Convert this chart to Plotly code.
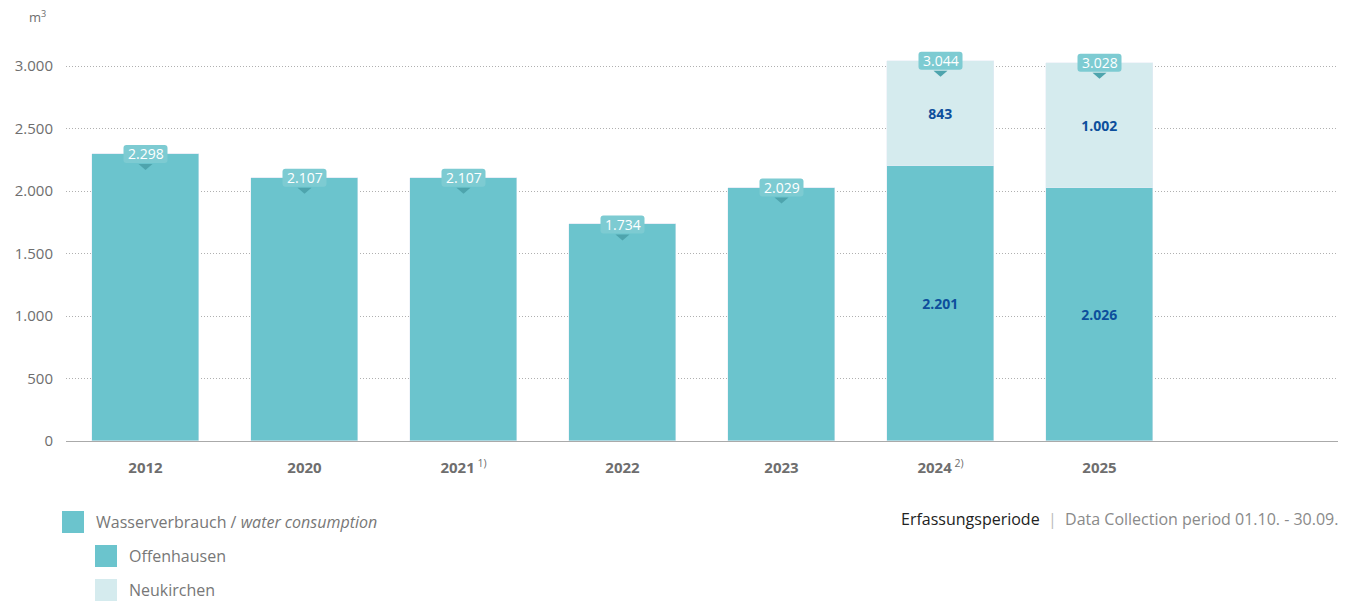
import plotly.graph_objects as go

years = ["2012", "2020", "2021", "2022", "2023", "2024", "2025"]
year_notes = ["", "", "1)", "", "", "2)", ""]
offenhausen = [2298, 2107, 2107, 1734, 2029, 2201, 2026]
neukirchen = [0, 0, 0, 0, 0, 843, 1002]
y_ticks = [0, 500, 1000, 1500, 2000, 2500, 3000]

def de(v):
    return f"{v:,}".replace(",", ".")

totals = [a + b for a, b in zip(offenhausen, neukirchen)]
xs = list(range(len(years)))
ticktext = [f"<b>{y}</b>" + (f"<sup> {n}</sup>" if n else "") for y, n in zip(years, year_notes)]

BAR = "#6bc4cd"
LIGHT = "#d5ebee"
BUBBLE = "#7dcbd2"
POINTER = "#4ea4ad"
GREY = "#6e6e6e"
FONT = "Open Sans"

W, H = 1347, 602
L, T = 66, 35
R = W - 1338
B = H - 441
PW, PH = W - L - R, H - T - B

def px(x):
    return (x - L) / PW

def py(y):
    return (H - B - y) / PH

fig = go.Figure()
fig.add_trace(go.Bar(
    x=xs, y=offenhausen, marker_color=BAR, width=0.675, name="Offenhausen",
    text=[de(v) if n else "" for v, n in zip(offenhausen, neukirchen)],
    textposition="inside", insidetextanchor="middle",
    textfont=dict(color="#0d4f9c", size=14, family=FONT, weight="bold"),
    hoverinfo="skip", showlegend=False,
))
fig.add_trace(go.Bar(
    x=xs, y=neukirchen, marker_color=LIGHT, width=0.675, name="Neukirchen",
    text=[de(v) if v else "" for v in neukirchen],
    textposition="inside", insidetextanchor="middle",
    textfont=dict(color="#0d4f9c", size=14, family=FONT, weight="bold"),
    hoverinfo="skip", showlegend=False,
))

annotations = []
shapes = []
bubble_path = ("M -19,-9 L 19,-9 Q 22,-9 22,-6 L 22,6 Q 22,9 19,9 L -19,9 "
               "Q -22,9 -22,6 L -22,-6 Q -22,-9 -19,-9 Z")
for x, t in zip(xs, totals):
    shapes.append(dict(type="path", xref="x", yref="y", xsizemode="pixel", ysizemode="pixel",
                       xanchor=x, yanchor=t, path=bubble_path,
                       fillcolor=BUBBLE, line=dict(width=0), layer="above"))
    shapes.append(dict(type="path", xref="x", yref="y", xsizemode="pixel", ysizemode="pixel",
                       xanchor=x, yanchor=t, path="M -7,-10 L 7,-10 L 0,-16 Z",
                       fillcolor=POINTER, line=dict(width=0), layer="above"))
    annotations.append(dict(x=x, y=t, xref="x", yref="y", text=de(t), showarrow=False,
                            font=dict(size=14, color="white", family=FONT),
                            yanchor="middle", yshift=0))

annotations.append(dict(x=px(48), y=py(17), xref="paper", yref="paper", text="m<sup>3</sup>",
                        showarrow=False, xanchor="right", yanchor="middle",
                        font=dict(size=13, color=GREY, family=FONT)))

legend_items = [
    (62, 522, BAR, "Wasserverbrauch / <i>water consumption</i>"),
    (95, 556, BAR, "Offenhausen"),
    (95, 590, LIGHT, "Neukirchen"),
]
for x0, yc, col, label in legend_items:
    shapes.append(dict(type="rect", xref="paper", yref="paper",
                       x0=px(x0), x1=px(x0 + 22), y0=py(yc - 11), y1=py(yc + 11),
                       fillcolor=col, line=dict(width=0)))
    annotations.append(dict(x=px(x0 + 32), y=py(yc), xref="paper", yref="paper", text=label,
                            showarrow=False, xanchor="left", yanchor="middle",
                            font=dict(size=16, color="#777777", family=FONT)))

annotations.append(dict(
    x=px(1340), y=py(519), xref="paper", yref="paper", showarrow=False,
    xanchor="right", yanchor="middle",
    text='<span style="color:#222222">Erfassungsperiode</span>'
         '<span style="color:#bbbbbb">  |  </span>'
         '<span style="color:#8a8a8a">Data Collection period 01.10. - 30.09.</span>',
    font=dict(size=16, family=FONT)))

fig.update_layout(
    width=W, height=H, margin=dict(l=L, r=R, t=T, b=B),
    paper_bgcolor="white", plot_bgcolor="white",
    barmode="stack", bargap=0, showlegend=False,
    annotations=annotations, shapes=shapes,
    font=dict(family=FONT, color=GREY),
)
fig.update_xaxes(range=[-0.5, 7.5], tickvals=xs, ticktext=ticktext,
                 tickfont=dict(size=15, color=GREY, family=FONT),
                 showgrid=False, showline=True, linecolor="#aaaaaa", linewidth=1,
                 ticks="", ticklabelstandoff=13, zeroline=False)
fig.update_yaxes(range=[0, 3250], tickvals=y_ticks,
                 ticktext=[de(v) for v in y_ticks],
                 tickfont=dict(size=15, color=GREY, family=FONT),
                 showgrid=True, gridcolor="#b0b0b0", griddash="1px,2px", gridwidth=1,
                 zeroline=False, showline=False, ticks="", ticklabelstandoff=12)

fig.write_html(
    "out.html",
    config={"displayModeBar": False},
    post_script="document.body.style.margin='0px';document.body.style.overflow='hidden';",
)
